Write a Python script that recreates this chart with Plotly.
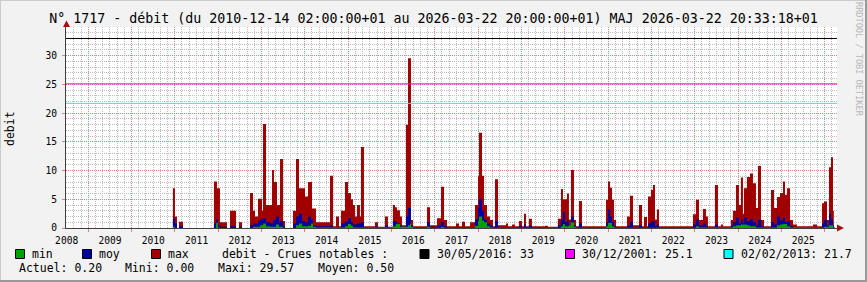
import pandas as pd
import plotly.graph_objects as go

# ---------------- data (decimal years / m3/s) ----------------
END = 2026.22

max_t = [2010.953, 2011.000, 2011.046, 2011.093, 2011.185, 2011.900, 2011.970, 2012.039, 2012.200, 2012.270,
         2012.408, 2012.477, 2012.547, 2012.731, 2012.800, 2012.847, 2012.916, 2013.008, 2013.031, 2013.100,
         2013.239, 2013.285, 2013.354, 2013.424, 2013.493, 2013.539, 2013.724, 2013.793, 2013.862, 2014.001,
         2014.070, 2014.162, 2014.254, 2014.578, 2014.647, 2014.716, 2014.785, 2014.831, 2014.924, 2014.993,
         2015.062, 2015.108, 2015.154, 2015.201, 2015.270, 2015.293, 2015.362, 2015.616, 2015.685, 2015.847,
         2015.916, 2016.031, 2016.078, 2016.124, 2016.193, 2016.239, 2016.332, 2016.378, 2016.447, 2016.493,
         2016.816, 2016.885, 2017.047, 2017.139, 2017.209, 2017.278, 2017.485, 2017.555, 2017.624, 2017.693,
         2017.809, 2017.924, 2017.993, 2018.016, 2018.086, 2018.132, 2018.201, 2018.270, 2018.339, 2018.386,
         2018.455, 2018.639, 2018.686, 2018.778, 2018.847, 2018.939, 2019.009, 2019.055, 2019.101, 2019.170,
         2019.239, 2019.540, 2019.609, 2019.840, 2019.909, 2019.955, 2020.047, 2020.093, 2020.140, 2020.209,
         2020.255, 2020.324, 2020.393, 2020.947, 2020.993, 2021.040, 2021.086, 2021.132, 2021.178, 2021.432,
         2021.501, 2021.570, 2021.709, 2021.778, 2021.824, 2021.894, 2021.917, 2021.986, 2022.032, 2022.078,
         2022.124, 2022.171, 2022.955, 2023.024, 2023.094, 2023.186, 2023.255, 2023.301, 2023.463, 2023.532,
         2023.601, 2023.648, 2023.832, 2023.878, 2023.948, 2024.017, 2024.063, 2024.109, 2024.132, 2024.201,
         2024.271, 2024.340, 2024.409, 2024.455, 2024.525, 2024.594, 2024.755, 2024.825, 2024.894, 2024.963,
         2025.032, 2025.078, 2025.125, 2025.194, 2025.263, 2025.355, 2025.725, 2025.817, 2025.932, 2025.978,
         2026.048, 2026.094, 2026.140, 2026.186, 2026.205, END]
max_v = [6.9, 2.0, 0.0, 1.1, 0.0, 8.1, 6.9, 1.0, 0.0, 3.0,
         0.0, 1.0, 0.0, 6.1, 3.0, 2.0, 5.1, 3.0, 18.1, 4.0,
         10.1, 8.0, 4.0, 12.0, 1.2, 0.0, 3.0, 12.0, 6.9, 5.5,
         8.0, 3.4, 1.0, 9.1, 0.3, 2.0, 0.3, 3.0, 8.0, 6.1,
         5.0, 4.0, 2.0, 4.0, 2.0, 14.1, 0.3, 1.0, 0.2, 2.0,
         0.2, 4.0, 3.6, 3.1, 2.0, 0.5, 18.0, 29.57, 1.4, 0.3,
         3.6, 0.5, 1.7, 7.2, 1.4, 0.3, 0.8, 0.3, 1.1, 0.3,
         1.0, 4.0, 9.0, 16.6, 9.1, 4.0, 2.0, 1.4, 0.3, 8.5,
         0.5, 0.8, 0.3, 0.6, 0.3, 1.2, 0.3, 2.5, 0.3, 1.6,
         0.3, 0.4, 0.2, 1.6, 6.8, 5.0, 6.0, 1.5, 10.1, 1.4,
         0.3, 4.7, 0.3, 4.9, 8.1, 7.0, 4.9, 1.4, 0.3, 2.0,
         5.6, 0.5, 4.0, 0.3, 1.9, 0.3, 5.5, 6.6, 7.5, 1.5,
         3.2, 0.3, 2.4, 4.9, 1.4, 3.3, 2.0, 0.3, 7.5, 0.3,
         0.6, 0.3, 1.4, 3.0, 7.5, 4.0, 8.8, 2.5, 6.9, 8.9,
         9.5, 7.8, 3.5, 10.8, 1.4, 0.3, 6.6, 3.5, 5.4, 6.1,
         8.1, 5.8, 6.9, 1.4, 0.6, 0.3, 0.6, 0.3, 4.3, 4.6,
         1.4, 10.6, 12.3, 3.0, 0.2, 0.2]

moy_t = [2010.953, 2011.000, 2011.046, 2011.093, 2011.185, 2011.900, 2011.946, 2011.993, 2012.039, 2012.200,
         2012.270, 2012.408, 2012.477, 2012.547, 2012.731, 2012.800, 2012.916, 2012.962, 2013.031, 2013.100,
         2013.193, 2013.262, 2013.331, 2013.400, 2013.424, 2013.493, 2013.539, 2013.724, 2013.793, 2013.862,
         2013.931, 2014.001, 2014.070, 2014.139, 2014.185, 2014.254, 2014.578, 2014.647, 2014.831, 2014.924,
         2014.993, 2015.062, 2015.108, 2015.201, 2015.293, 2015.362, 2015.616, 2015.685, 2015.847, 2015.916,
         2016.031, 2016.124, 2016.193, 2016.239, 2016.332, 2016.378, 2016.447, 2016.493, 2016.816, 2016.885,
         2017.047, 2017.139, 2017.209, 2017.278, 2017.924, 2017.993, 2018.016, 2018.086, 2018.132, 2018.201,
         2018.270, 2018.339, 2018.386, 2018.455, 2018.939, 2019.009, 2019.055, 2019.101, 2019.170, 2019.239,
         2019.840, 2019.909, 2019.955, 2020.001, 2020.047, 2020.093, 2020.140, 2020.209, 2020.255, 2020.324,
         2020.393, 2020.947, 2020.993, 2021.040, 2021.086, 2021.132, 2021.178, 2021.432, 2021.501, 2021.570,
         2021.709, 2021.778, 2021.917, 2021.986, 2022.078, 2022.124, 2022.171, 2022.955, 2023.024, 2023.094,
         2023.186, 2023.255, 2023.301, 2023.463, 2023.532, 2023.832, 2023.878, 2023.948, 2024.017, 2024.063,
         2024.109, 2024.132, 2024.201, 2024.271, 2024.340, 2024.409, 2024.455, 2024.525, 2024.594, 2024.755,
         2024.825, 2024.894, 2024.963, 2025.032, 2025.078, 2025.125, 2025.194, 2025.263, 2025.932, 2025.978,
         2026.048, 2026.094, 2026.140, 2026.186, 2026.205, END]
moy_v = [1.6, 0.8, 0.0, 0.3, 0.0, 0.8, 1.5, 0.5, 0.2, 0.0,
         0.3, 0.0, 0.2, 0.0, 0.5, 0.8, 1.2, 1.5, 1.7, 1.0,
         0.8, 1.4, 2.0, 1.0, 1.2, 0.3, 0.0, 0.8, 2.0, 2.5,
         1.2, 1.0, 2.0, 1.5, 0.5, 0.3, 0.5, 0.1, 0.8, 1.2,
         1.7, 1.0, 0.6, 0.8, 1.0, 0.1, 0.3, 0.1, 0.4, 0.1,
         1.2, 0.8, 0.4, 0.2, 2.0, 3.5, 0.5, 0.1, 1.0, 0.2,
         0.4, 1.0, 0.3, 0.1, 1.5, 3.5, 5.0, 3.0, 1.5, 0.8,
         0.4, 0.1, 1.2, 0.1, 0.3, 0.1, 0.6, 0.1, 0.4, 0.1,
         0.5, 1.5, 2.8, 1.0, 1.3, 0.5, 2.0, 0.5, 0.1, 0.8,
         0.1, 1.0, 3.3, 2.0, 1.0, 0.3, 0.1, 0.4, 1.1, 0.1,
         0.5, 0.1, 0.8, 1.2, 0.3, 0.6, 0.1, 0.6, 1.5, 0.4,
         0.8, 0.3, 0.1, 0.6, 0.1, 0.4, 1.0, 1.8, 0.8, 1.5,
         0.8, 1.8, 1.2, 1.5, 1.0, 0.5, 1.4, 0.3, 0.1, 1.0,
         0.6, 2.0, 1.3, 1.8, 1.0, 1.2, 0.3, 0.1, 0.8, 1.4,
         0.4, 2.5, 1.5, 0.5, 0.1, 0.1]

min_t = [2010.953, 2011.000, 2011.946, 2011.993, 2012.039, 2012.800, 2012.962, 2013.031, 2013.100, 2013.193,
         2013.331, 2013.400, 2013.493, 2013.793, 2013.862, 2013.931, 2014.070, 2014.139, 2014.185, 2014.254,
         2014.924, 2014.993, 2015.062, 2015.108, 2016.031, 2016.101, 2016.193, 2016.378, 2016.424, 2016.447,
         2016.493, 2016.816, 2016.885, 2017.139, 2017.209, 2017.924, 2017.993, 2018.016, 2018.086, 2018.132,
         2018.201, 2018.270, 2018.339, 2019.909, 2019.955, 2020.001, 2020.093, 2020.140, 2020.209, 2020.255,
         2020.947, 2020.993, 2021.086, 2021.132, 2021.178, 2023.024, 2023.094, 2023.878, 2023.948, 2024.063,
         2024.201, 2024.271, 2024.409, 2024.894, 2024.963, 2025.032, 2025.125, 2025.194, 2025.978, 2026.094,
         2026.186, 2026.205, END]
min_v = [0.2, 0.0, 0.9, 0.1, 0.0, 0.2, 0.5, 0.8, 0.3, 0.2,
         0.6, 0.2, 0.0, 0.5, 0.8, 0.3, 0.4, 0.8, 0.2, 0.1,
         0.3, 0.7, 0.4, 0.1, 0.3, 0.7, 0.2, 0.5, 0.8, 0.2,
         0.05, 0.2, 0.05, 0.2, 0.05, 0.4, 1.2, 2.0, 1.3, 1.0,
         0.3, 0.1, 0.05, 0.3, 0.7, 0.3, 0.5, 1.0, 0.2, 0.05,
         0.3, 0.9, 0.3, 0.1, 0.05, 0.3, 0.1, 0.3, 0.5, 0.6,
         0.5, 0.3, 0.1, 0.5, 0.6, 0.7, 0.3, 0.1, 0.2, 0.5,
         0.1, 0.05, 0.05]

# notable floods (horizontal rules)
flood_labels = ["30/05/2016: 33", "30/12/2001: 25.1", "02/02/2013: 21.7"]
flood_values = [33, 25.1, 21.7]
flood_colors = ["#000000", "#FF00FF", "#00FFFF"]

series_names = ["min", "moy", "max"]
series_colors = ["#00A000", "#0000A0", "#A00000"]

stats_text = ["Actuel: 0.20", "Mini: 0.00", "Maxi: 29.57", "Moyen: 0.50"]

TITLE = "N° 1717 - débit (du 2010-12-14 02:00:00+01 au 2026-03-22 20:00:00+01) MAJ 2026-03-22 20:33:18+01"
MONO = "DejaVu Sans Mono"


def dy(f):
    y = int(f)
    a = pd.Timestamp(year=y, month=1, day=1)
    b = pd.Timestamp(year=y + 1, month=1, day=1)
    return a + (b - a) * (f - y)


# ---------------- layout geometry (pixels) ----------------
W, H = 867, 282
PL, PR, PT, PB = 66, 837, 27, 228


def px(x):
    return (x - PL) / (PR - PL)


def py(y):
    return (PB - y) / (PB - PT)


fig = go.Figure()
for t, v, c, n in [(max_t, max_v, series_colors[2], "max"),
                   (moy_t, moy_v, series_colors[1], "moy"),
                   (min_t, min_v, series_colors[0], "min")]:
    fig.add_trace(go.Scatter(x=[dy(a) for a in t], y=v, mode="lines", line=dict(width=0, shape="hv", color=c),
                             fill="tozeroy", fillcolor=c, name=n, hoverinfo="skip", showlegend=False))

shapes = []
for val, col in zip(flood_values, flood_colors):
    shapes.append(dict(type="line", xref="paper", yref="y", x0=0, x1=1, y0=val, y1=val,
                       line=dict(color=col, width=1), layer="above"))

# arrows
arrow_col = "#A01010"
shapes.append(dict(type="path", xref="paper", yref="paper",
                   path=f"M {px(63)} {py(27)} L {px(66.5)} {py(20.5)} L {px(70)} {py(27)} Z",
                   fillcolor=arrow_col, line=dict(width=0)))
shapes.append(dict(type="path", xref="paper", yref="paper",
                   path=f"M {px(837)} {py(224.5)} L {px(844)} {py(228)} L {px(837)} {py(231.5)} Z",
                   fillcolor=arrow_col, line=dict(width=0)))
# frame (3D look)
shapes.append(dict(type="line", xref="paper", yref="paper", x0=px(0), x1=px(W), y0=py(0.5), y1=py(0.5),
                   line=dict(color="#CBCBCB", width=1)))
shapes.append(dict(type="line", xref="paper", yref="paper", x0=px(0.5), x1=px(0.5), y0=py(0), y1=py(H),
                   line=dict(color="#CBCBCB", width=1)))
shapes.append(dict(type="line", xref="paper", yref="paper", x0=px(0), x1=px(W), y0=py(H - 1), y1=py(H - 1),
                   line=dict(color="#999999", width=2)))
shapes.append(dict(type="line", xref="paper", yref="paper", x0=px(W - 1), x1=px(W - 1), y0=py(0), y1=py(H),
                   line=dict(color="#999999", width=2)))

ann = []


def text(x, y, s, size=11.5, color="black", xanchor="left", angle=0):
    ann.append(dict(xref="paper", yref="paper", x=px(x), y=py(y), text=s, showarrow=False,
                    xanchor=xanchor, yanchor="middle", textangle=angle,
                    font=dict(family=MONO, size=size, color=color)))


def square(x, y, col):
    shapes.append(dict(type="rect", xref="paper", yref="paper", x0=px(x), x1=px(x + 9),
                       y0=py(y + 9), y1=py(y), fillcolor=col, line=dict(color="#000000", width=1)))


row1, row2 = 253.5, 268
# legend row 1
square(15.5, 249.5, series_colors[0]); text(29.5, row1, series_names[0])
square(82.5, 249.5, series_colors[1]); text(96.5, row1, series_names[1])
square(151.5, 249.5, series_colors[2]); text(165.5, row1, series_names[2])
text(219.5, row1, "debit - Crues notables :")
square(420, 249.5, flood_colors[0]); text(434.5, row1, flood_labels[0])
square(565.5, 249.5, flood_colors[1]); text(579.5, row1, flood_labels[1])
square(724, 249.5, flood_colors[2]); text(738.5, row1, flood_labels[2])
# row 2
for xx, s in zip([16.5, 122.5, 215.5, 315.5], stats_text):
    text(xx, row2, s)

# axis title and watermark
text(10, 128, "debit", size=11.5, xanchor="center", angle=-90)
text(859, 60, "RRDTOOL / TOBI OETIKER", size=8.6, color="#B8B8B8", xanchor="center", angle=90)

fig.update_layout(
    width=W, height=H,
    margin=dict(l=PL, r=W - PR, t=PT, b=H - PB, pad=0),
    paper_bgcolor="#F2F2F2", plot_bgcolor="#FFFFFF",
    title=dict(text=TITLE, x=0.5, xref="container", xanchor="center", y=1 - 18 / H, yref="container",
               yanchor="middle", font=dict(family=MONO, size=13.3, color="black")),
    shapes=shapes, annotations=ann, showlegend=False,
)

major_col = "#E68080"
minor_col = "#BDBDBD"
axis_col = "#404040"

fig.update_xaxes(type="date", range=[dy(2008.485), dy(2026.279)], dtick="M12", tick0="2008-01-01",
                 ticklabelmode="period", tickformat="%Y", showgrid=True, gridcolor=major_col,
                 griddash="1px,1px", gridwidth=1,
                 minor=dict(dtick="M2", tick0="2008-01-01", showgrid=True, gridcolor=minor_col,
                            griddash="1px,1px", gridwidth=1),
                 showline=True, linecolor=axis_col, linewidth=1, ticks="outside", ticklen=3,
                 tickcolor=major_col, zeroline=False, fixedrange=True,
                 tickfont=dict(family=MONO, size=9.6, color="black"))
fig.update_yaxes(range=[0, 35], tickvals=[0, 5, 10, 15, 20, 25, 30], showgrid=True, gridcolor=major_col,
                 griddash="1px,1px", gridwidth=1,
                 minor=dict(dtick=1, tick0=0, showgrid=True, gridcolor=minor_col, griddash="1px,1px",
                            gridwidth=1),
                 showline=True, linecolor=axis_col, linewidth=1, ticks="outside", ticklen=3,
                 tickcolor=major_col, zeroline=False, fixedrange=True, ticklabelstandoff=3,
                 tickfont=dict(family=MONO, size=9.6, color="black"))

fig.write_html("out.html")
